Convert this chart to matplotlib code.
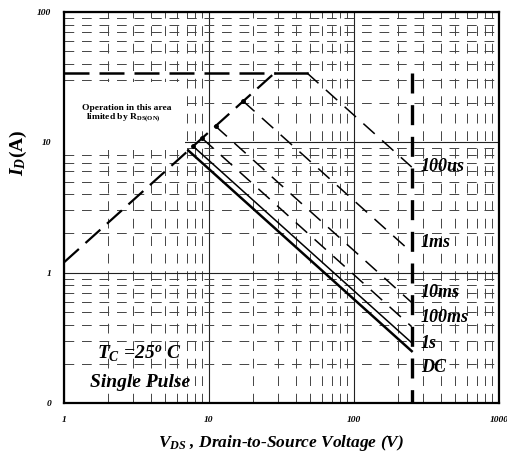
import numpy as np
import matplotlib.pyplot as plt
from matplotlib.patches import Rectangle
from matplotlib.ticker import FixedLocator, FixedFormatter, NullFormatter, LogLocator

plt.rcParams['mathtext.fontset'] = 'custom'
plt.rcParams['mathtext.it'] = 'Liberation Serif:italic:bold'
plt.rcParams['mathtext.rm'] = 'Liberation Serif:bold'
plt.rcParams['mathtext.bf'] = 'Liberation Serif:bold'

# axis ticks
x_ticks = [1, 10, 100, 1000]
x_tick_labels = ['1', '10', '100', '1000']
y_ticks = [0.1, 1, 10, 100]
y_tick_labels = ['0', '1', '10', '100']

# R_DS(on) limit line and current limit
rds_v = [1, 28.3]
rds_i = [1.2, 34]
i_max = 34
v_max = 250

# pulse lines: start on the R_DS(on) line (or current limit), end at v_max
pulse_labels = ['100us', '1ms', '10ms', '100ms', '1s', 'DC']
start_v = [47.5, 17.2, 11.1, 8.96, 7.77, 7.2]
start_i = [34, 20.7, 13.3, 10.75, 9.33, 8.66]
end_i = [6.46, 1.43, 0.59, 0.385, 0.29, 0.25]
label_i = [6.55, 1.70, 0.70, 0.45, 0.285, 0.187]

fig = plt.figure(figsize=(5.07, 4.58), dpi=100)
ax = fig.add_axes([64 / 507, 1 - 403 / 458, 435 / 507, 391 / 458])
ax.set_xscale('log')
ax.set_yscale('log')
ax.set_xlim(1, 1000)
ax.set_ylim(0.1, 100)

tick_font = dict(family='Liberation Serif', weight='bold', style='italic', size=6.8)
ax.xaxis.set_major_locator(FixedLocator(x_ticks))
ax.xaxis.set_major_formatter(FixedFormatter(x_tick_labels))
ax.yaxis.set_major_locator(FixedLocator(y_ticks))
ax.yaxis.set_major_formatter(FixedFormatter(y_tick_labels))
for a in (ax.xaxis, ax.yaxis):
    a.set_minor_locator(LogLocator(base=10, subs=np.arange(2, 10)))
    a.set_minor_formatter(NullFormatter())
for lab in ax.get_xticklabels() + ax.get_yticklabels():
    lab.set_fontproperties(tick_font)
ax.tick_params(which='both', length=0)
ax.tick_params(axis='x', pad=9)
ax.tick_params(axis='y', pad=9)

ax.set_axisbelow(True)
ax.grid(which='major', color='#222222', lw=0.8, ls='-')
ax.grid(which='minor', color='#444444', lw=0.7, ls=(0, (10, 8)))
for s in ax.spines.values():
    s.set_linewidth(1.6)

# white box behind the R_DS(on) note
ax.add_patch(Rectangle((1, 8.7), 5.8, 29 - 8.7, facecolor='white', edgecolor='none', zorder=1))
ax.text(2.70, 18.3, 'Operation in this area', ha='center', va='center',
        family='Liberation Serif', weight='bold', size=6.8, zorder=3)
ax.text(2.55, 15.4, r'limited by $\mathrm{R}_{\mathrm{DS(ON)}}$', ha='center', va='center',
        family='Liberation Serif', weight='bold', size=6.8, zorder=3)

# limit lines
ax.plot(rds_v, rds_i, color='black', lw=1.6, ls=(0, (9, 4)), zorder=4)
ax.plot([1, rds_v[1]], [i_max, i_max], color='black', lw=1.8, ls=(0, (10, 4)), zorder=4)
ax.plot([rds_v[1], start_v[0]], [i_max, i_max], color='black', lw=1.8, zorder=4)
ax.plot([v_max, v_max], [i_max, 0.1], color='black', lw=2.4, ls=(0, (6, 3.5)), zorder=4)

for k, lab in enumerate(pulse_labels):
    if lab == 'DC':
        style = dict(lw=1.8, ls='-')
    elif lab == '1s':
        style = dict(lw=1.1, ls='-')
    else:
        style = dict(lw=1.1, ls=(0, (10, 6.5)))
    ax.plot([start_v[k], v_max], [start_i[k], end_i[k]], color='black', zorder=4, **style)
    ax.text(290, label_i[k], lab, ha='left', va='center', family='Liberation Serif',
            weight='bold', style='italic', size=13, zorder=5)

ax.plot(start_v[1:5], start_i[1:5], 'o', color='black', ms=2.5, zorder=5)

ax.text(3.29, 0.239, r'$T_C$ =25$^o$ C', ha='center', va='center', family='Liberation Serif',
        weight='bold', style='italic', size=14, zorder=5)
ax.text(3.32, 0.143, 'Single Pulse', ha='center', va='center', family='Liberation Serif',
        weight='bold', style='italic', size=14, zorder=5)

fig.text(281 / 507, 1 - 443 / 458, r'$V_{DS}$ , Drain-to-Source Voltage (V)', ha='center', va='center',
         family='Liberation Serif', weight='bold', style='italic', size=12.5)
fig.text(18 / 507, 1 - 153 / 458, r'$I_D$(A)', ha='center', va='center', rotation=90,
         family='Liberation Serif', weight='bold', size=14)

fig.savefig('out.png', dpi=100)
